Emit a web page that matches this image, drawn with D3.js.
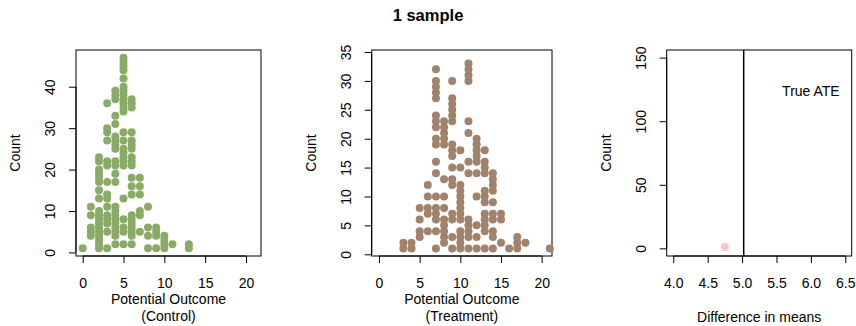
<!DOCTYPE html>
<html lang="en">
<head>
<meta charset="utf-8">
<title>1 sample</title>
<script src="https://cdn.jsdelivr.net/npm/d3@7"></script>
<style>
  body { margin: 0; background: #fff; }
  svg text { font-family: "Liberation Sans", Arial, Helvetica, sans-serif; fill: #000; }
</style>
</head>
<body>
<script>
// dot stacks: index = outcome value, entries = count positions that are shown
var controlStacks = [
  [1],
  [4, 5, 6, 9, 11],
  [1, 2, 3, 4, 5, 6, 7, 8, 9, 10, 13, 15, 17, 18, 19, 20, 22, 23],
  [1, 5, 7, 8, 9, 11, 13, 14, 17, 21, 22, 27, 29, 30, 36],
  [2, 4, 5, 6, 7, 8, 9, 10, 11, 17, 19, 21, 22, 25, 26, 27, 28, 31, 33, 37, 38, 39],
  [2, 5, 6, 8, 13, 21, 22, 23, 24, 25, 27, 29, 34, 35, 36, 37, 38, 39, 40, 42, 44, 45, 46, 47],
  [2, 4, 5, 6, 7, 8, 9, 14, 16, 18, 21, 22, 23, 25, 26, 27, 29, 35, 36, 37],
  [5, 9, 10, 14, 16, 18],
  [1, 4, 6, 11],
  [1, 4, 5, 6],
  [1, 2, 3, 4],
  [2],
  [],
  [1, 2]
];

var treatmentStacks = [
  [], [], [],
  [1, 2],
  [1, 2],
  [3, 4, 6, 8],
  [4, 7, 8, 10, 12],
  [1, 4, 6, 7, 8, 10, 14, 16, 19, 20, 22, 23, 24, 27, 28, 29, 30, 32],
  [2, 3, 4, 5, 6, 8, 10, 13, 19, 20, 21, 22, 23],
  [1, 3, 6, 7, 12, 13, 15, 17, 18, 19, 23, 24, 25, 26, 27, 30],
  [1, 2, 3, 4, 6, 7, 8, 9, 10, 11, 12, 15, 18],
  [1, 3, 4, 5, 6, 14, 16, 21, 23, 30, 31, 32, 33],
  [1, 3, 5, 10, 14, 16, 17, 18, 19, 20],
  [1, 4, 5, 6, 7, 9, 10, 11, 14, 15, 16, 18],
  [1, 3, 4, 6, 7, 9, 11, 12, 13, 14],
  [2, 6, 7],
  [1],
  [1, 2, 3],
  [2],
  [], [],
  [1]
];

// sampling distribution of the difference in means (one sample so far)
var diffMeans = [4.75];
var diffCounts = [1];
var trueATE = 5.023;

var outcomeTicks = [0, 5, 10, 15, 20];
var controlYTicks = [0, 10, 20, 30, 40];
var treatmentYTicks = [0, 5, 10, 15, 20, 25, 30, 35];
var diffXTicks = [4.0, 4.5, 5.0, 5.5, 6.0, 6.5];
var diffYTicks = [0, 50, 100, 150];

var W = 856, H = 326;
var svg = d3.select("body").append("svg")
    .attr("width", W)
    .attr("height", H);

svg.append("text")
    .attr("x", 428).attr("y", 21)
    .attr("text-anchor", "middle")
    .attr("font-size", 16.5)
    .attr("font-weight", "bold")
    .text("1 sample");

function stacksToPoints(stacks) {
  var pts = [];
  stacks.forEach(function(cs, v) {
    cs.forEach(function(c) { pts.push({x: v, y: c}); });
  });
  return pts;
}

function panel(cfg) {
  var x = d3.scaleLinear().domain(cfg.xDomain).range([cfg.x0, cfg.x1]);
  var y = d3.scaleLinear().domain(cfg.yDomain).range([cfg.y1, cfg.y0]);
  var g = svg.append("g");

  // x axis
  var gx = g.append("g")
      .attr("transform", "translate(0," + cfg.y1 + ")")
      .call(d3.axisBottom(x).tickValues(cfg.xTicks).tickSize(7).tickSizeOuter(0)
            .tickPadding(15).tickFormat(cfg.xFormat || d3.format("d")));
  gx.select(".domain")
      .attr("d", "M" + x(cfg.xTicks[0]) + ",0H" + x(cfg.xTicks[cfg.xTicks.length - 1]));
  gx.selectAll("text").attr("font-size", 14).attr("fill", "#000");

  // y axis with R-style rotated labels
  var gy = g.append("g")
      .attr("transform", "translate(" + cfg.x0 + ",0)")
      .call(d3.axisLeft(y).tickValues(cfg.yTicks).tickSize(7).tickSizeOuter(0)
            .tickFormat(d3.format("d")));
  gy.select(".domain")
      .attr("d", "M0," + y(cfg.yTicks[0]) + "V" + y(cfg.yTicks[cfg.yTicks.length - 1]));
  gy.selectAll("text")
      .attr("x", -26).attr("y", 0).attr("dy", "0.35em")
      .attr("text-anchor", "middle")
      .attr("transform", "rotate(-90,-26,0)")
      .attr("font-size", 14).attr("fill", "#000");

  g.selectAll(".tick line, .domain").attr("stroke", "#000");

  // box
  g.append("rect")
      .attr("x", cfg.x0).attr("y", cfg.y0)
      .attr("width", cfg.x1 - cfg.x0).attr("height", cfg.y1 - cfg.y0)
      .attr("fill", "none").attr("stroke", "#000").attr("stroke-width", 1);

  // points
  g.append("g").selectAll("circle")
      .data(cfg.points)
      .enter().append("circle")
      .attr("cx", function(d) { return x(d.x); })
      .attr("cy", function(d) { return y(d.y); })
      .attr("r", 4)
      .attr("fill", cfg.color);

  // labels
  var cx = (cfg.x0 + cfg.x1) / 2;
  cfg.xlab.forEach(function(t, i) {
    g.append("text")
        .attr("x", cx).attr("y", cfg.xlabY + i * 17)
        .attr("dy", "0.35em")
        .attr("text-anchor", "middle")
        .attr("font-size", 14)
        .text(t);
  });
  var ly = (cfg.y0 + cfg.y1) / 2;
  g.append("text")
      .attr("transform", "translate(" + (cfg.x0 - 61) + "," + ly + ") rotate(-90)")
      .attr("dy", "0.35em")
      .attr("text-anchor", "middle")
      .attr("font-size", 14)
      .text("Count");

  return {x: x, y: y, g: g};
}

panel({
  x0: 76, x1: 261, y0: 50, y1: 256,
  xDomain: [-0.82, 21.84], yDomain: [-0.86, 48.86],
  xTicks: outcomeTicks, yTicks: controlYTicks,
  points: stacksToPoints(controlStacks),
  color: "#8aab67",
  xlab: ["Potential Outcome", "(Control)"], xlabY: 299.5
});

panel({
  x0: 371.7, x1: 552, y0: 50, y1: 256,
  xDomain: [-0.897, 21.27], yDomain: [-0.3, 35.35],
  xTicks: outcomeTicks, yTicks: treatmentYTicks,
  points: stacksToPoints(treatmentStacks),
  color: "#a0826d",
  xlab: ["Potential Outcome", "(Treatment)"], xlabY: 299.5
});

var p3 = panel({
  x0: 666.7, x1: 851.7, y0: 50, y1: 256,
  xDomain: [3.904, 6.593], yDomain: [-6, 156],
  xTicks: diffXTicks, yTicks: diffYTicks,
  xFormat: d3.format(".1f"),
  points: diffMeans.map(function(m, i) { return {x: m, y: diffCounts[i]}; }),
  color: "#fcc6c6",
  xlab: ["Difference in means"], xlabY: 317
});

p3.g.append("line")
    .attr("x1", p3.x(trueATE)).attr("x2", p3.x(trueATE))
    .attr("y1", 50).attr("y2", 256)
    .attr("stroke", "#000").attr("stroke-width", 1.5);

p3.g.append("text")
    .attr("x", p3.x(6.0)).attr("y", p3.y(124))
    .attr("dy", "0.35em")
    .attr("text-anchor", "middle")
    .attr("font-size", 14)
    .text("True ATE");
</script>
</body>
</html>
